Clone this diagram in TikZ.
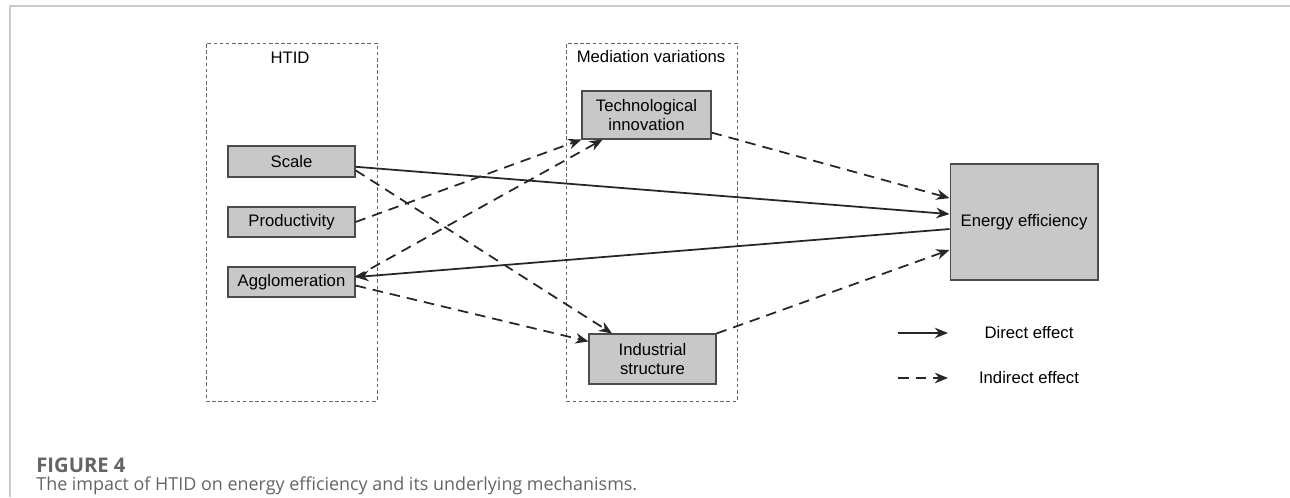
\documentclass[tikz,border=0pt]{standalone}
\usepackage{fontspec}
\setmainfont{Liberation Sans}
\newfontfamily\capfont{Open Sans}
\usetikzlibrary{arrows.meta}
\definecolor{boxgray}{RGB}{200,200,200}
\definecolor{capgray}{RGB}{100,100,100}
\begin{document}
\begin{tikzpicture}[x=0.02cm,y=-0.02cm,
    every node/.style={font=\fontsize{9.5}{11}\selectfont},
    varbox/.style={rectangle, draw=black!70, fill=boxgray, line width=0.6pt,
      inner sep=0pt, align=center},
    groupbox/.style={rectangle, draw=black!60, line width=0.5pt,
      dash pattern=on 2pt off 1.5pt, minimum width=3.42cm, minimum height=7.16cm},
    eff/.style={-{Stealth[length=7.5pt,width=6pt]}, line width=1pt, black!85},
    ieff/.style={eff, dash pattern=on 6pt off 4pt}]
  \useasboundingbox (0,0) rectangle (1290,497);
  \draw[black!20, line width=1.2pt] (1290,6) -- (10,6) -- (10,497);
  % groups
  \node (htid) at (291.5,222) [groupbox] {};
  \node (med) at (652,222) [groupbox] {};
  \node (htidlab) at (290,58) {HTID};
  \node (medlab) at (651,57) {Mediation variations};
  % variables
  \node (scale) at (291.5,161.5) [varbox, minimum width=2.54cm, minimum height=0.62cm] {Scale};
  \node (prod) at (291.5,222) [varbox, minimum width=2.54cm, minimum height=0.6cm] {Productivity};
  \node (agglo) at (291.5,282) [varbox, minimum width=2.54cm, minimum height=0.6cm] {Agglomeration};
  \node (tech) at (646.5,115) [varbox, minimum width=2.58cm, minimum height=0.96cm] {Technological\\innovation};
  \node (indus) at (652.5,359) [varbox, minimum width=2.54cm, minimum height=1cm] {Industrial\\structure};
  \node (energy) at (1024,222) [varbox, minimum width=2.96cm, minimum height=2.32cm] {Energy efficiency};
  % effects
  \draw[eff] ([yshift=-3pt]scale.east) -- ([yshift=4.5pt]energy.west);
  \draw[eff] ([yshift=-4pt]energy.west) -- ([yshift=2.8pt]agglo.east);
  \draw[ieff] ([yshift=-5pt]scale.east) -- ([xshift=-23pt]indus.north);
  \draw[ieff] (prod.east) -- (tech.south west);
  \draw[ieff] ([yshift=2.8pt]agglo.east) -- ([xshift=-25pt]tech.south);
  \draw[ieff] ([yshift=-2pt]agglo.east) -- ([yshift=10pt]indus.west);
  \draw[ieff] ([yshift=-10pt]tech.east) -- ([yshift=13.6pt]energy.west);
  \draw[ieff] (indus.north east) -- ([yshift=-15.9pt]energy.west);
  % legend
  \coordinate (d0) at (898,333); \coordinate (d1) at (948,333);
  \coordinate (i0) at (898,378); \coordinate (i1) at (948,378);
  \draw[eff] (d0) -- (d1);
  \draw[ieff] (i0) -- (i1);
  \node (dlab) at (1029,333) {Direct effect};
  \node (ilab) at (1029,378) {Indirect effect};
  % caption
  \node (fig) at (36,465) [anchor=west, inner sep=0pt, text=capgray,
    font=\capfont\bfseries\fontsize{11.5}{13}\selectfont] {FIGURE 4};
  \node (cap) at (36,486) [anchor=west, inner sep=0pt, text=capgray,
    font=\capfont\fontsize{10.2}{12}\selectfont]
    {The impact of HTID on energy efficiency and its underlying mechanisms.};
\end{tikzpicture}
\end{document}
